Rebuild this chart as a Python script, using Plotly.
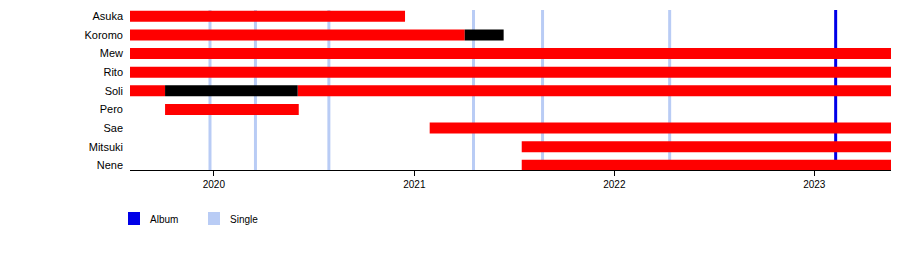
import pandas as pd
import plotly.graph_objects as go

# ---- data ----
members = ["Asuka", "Koromo", "Mew", "Rito", "Soli", "Pero", "Sae", "Mitsuki", "Nene"]
range_start = "2019-08-01"
range_end = "2023-05-21"

# active (red) periods: member, start, end
active_member = ["Asuka", "Koromo", "Mew", "Rito", "Soli", "Soli", "Pero", "Sae", "Mitsuki", "Nene"]
active_start = ["2019-08-01", "2019-08-01", "2019-08-01", "2019-08-01", "2019-08-01", "2020-06-02",
                "2019-10-04", "2021-01-29", "2021-07-16", "2021-07-16"]
active_end = ["2020-12-15", "2021-04-03", "2023-05-21", "2023-05-21", "2019-10-04", "2023-05-21",
              "2020-06-04", "2023-05-21", "2023-05-21", "2023-05-21"]

# hiatus (black) periods
hiatus_member = ["Koromo", "Soli"]
hiatus_start = ["2021-04-03", "2019-10-04"]
hiatus_end = ["2021-06-13", "2020-06-02"]

album_dates = ["2023-02-09"]
single_dates = ["2019-12-25", "2020-03-17", "2020-07-29", "2021-04-19", "2021-08-23", "2022-04-12"]

# ---- figure ----
FONT = "Liberation Sans, Arial, sans-serif"
W, H = 900, 265
ML, MR, MT, MB = 130, 9, 10, 95


def durations(starts, ends):
    s = pd.to_datetime(pd.Series(starts))
    e = pd.to_datetime(pd.Series(ends))
    return ((e - s).dt.total_seconds() * 1000).tolist()


fig = go.Figure()
fig.add_trace(go.Bar(
    y=active_member, x=durations(active_start, active_end), base=active_start,
    orientation="h", marker=dict(color="#ff0000", line=dict(width=0)),
    width=0.59, name="Member", showlegend=False, hoverinfo="skip"))
fig.add_trace(go.Bar(
    y=hiatus_member, x=durations(hiatus_start, hiatus_end), base=hiatus_start,
    orientation="h", marker=dict(color="#000000", line=dict(width=0)),
    width=0.59, name="Hiatus", showlegend=False, hoverinfo="skip"))

shapes = []
for d in single_dates:
    shapes.append(dict(type="line", xref="x", yref="paper", x0=d, x1=d, y0=0, y1=1,
                       line=dict(color="#b9ccf5", width=3), layer="below"))
for d in album_dates:
    shapes.append(dict(type="line", xref="x", yref="paper", x0=d, x1=d, y0=0, y1=1,
                       line=dict(color="#0000e8", width=3), layer="below"))

pw = W - ML - MR
ph = H - MT - MB


def px_x(p):
    return (p - ML) / pw


def px_y(p):
    return (H - MB - p) / ph


legend_items = [("Album", "#0000e8", 128), ("Single", "#b9ccf5", 208)]
annotations = []
for label, color, x0 in legend_items:
    shapes.append(dict(type="rect", xref="paper", yref="paper",
                       x0=px_x(x0), x1=px_x(x0 + 12), y0=px_y(212), y1=px_y(225),
                       fillcolor=color, line=dict(width=0)))
    annotations.append(dict(xref="paper", yref="paper", x=px_x(x0 + 20), y=px_y(219),
                            text=label, showarrow=False, xanchor="left", yanchor="middle",
                            font=dict(family=FONT, size=10, color="#000")))

fig.update_layout(
    width=W, height=H, margin=dict(l=ML, r=MR, t=MT, b=MB),
    paper_bgcolor="white", plot_bgcolor="white", barmode="overlay",
    shapes=shapes, annotations=annotations, showlegend=False,
    font=dict(family=FONT, size=10, color="#000"),
)
fig.update_xaxes(
    type="date", range=[range_start, range_end], showgrid=False, zeroline=False,
    showline=True, linecolor="#000", linewidth=1, ticks="outside", ticklen=5,
    tickcolor="#000", tick0="2020-01-01", dtick="M12", tickformat="%Y",
    tickfont=dict(family=FONT, size=10, color="#000"),
)
fig.update_yaxes(
    type="category", categoryorder="array", categoryarray=members,
    range=[8.25, -0.34], showgrid=False, zeroline=False, showline=False, ticks="",
    ticklabelstandoff=6, tickfont=dict(family=FONT, size=11, color="#000"),
)

fig.write_html("out.html")
